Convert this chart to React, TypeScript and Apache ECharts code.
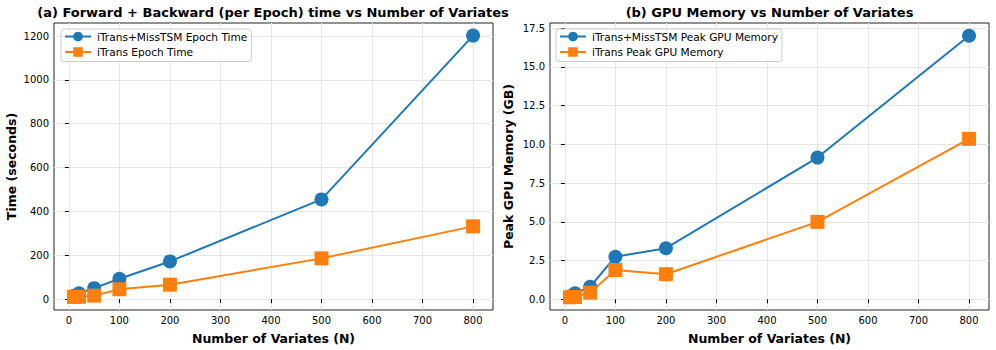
import React, { useEffect, useRef } from "react";
import * as echarts from "echarts";

const variates = [10, 20, 50, 100, 200, 500, 800];
const missTsmTime = [15, 27, 50, 93, 172, 455, 1202];
const itransTime = [10, 11, 16, 45, 66, 186, 332];
const missTsmMem = [0.2, 0.39, 0.81, 2.75, 3.3, 9.15, 17.02];
const itransMem = [0.13, 0.15, 0.43, 1.89, 1.62, 5.0, 10.36];

const xTicks = [0, 100, 200, 300, 400, 500, 600, 700, 800];
const timeTicks = [0, 200, 400, 600, 800, 1000, 1200];
const memTicks = [0, 2.5, 5, 7.5, 10, 12.5, 15, 17.5];

const titles = [
  "(a) Forward + Backward (per Epoch) time vs Number of Variates",
  "(b) GPU Memory vs Number of Variates",
];
const seriesNames = [
  "iTrans+MissTSM Epoch Time",
  "iTrans Epoch Time",
  "iTrans+MissTSM Peak GPU Memory",
  "iTrans Peak GPU Memory",
];

const FONT = "DejaVu Sans";
const BLUE = "#1f77b4";
const ORANGE = "#ff7f0e";

const pairs = (xs: number[], ys: number[]) => xs.map((x, i) => [x, ys[i]]);

export default function App() {
  const ref = useRef<HTMLDivElement>(null);
  useEffect(() => {
    if (!ref.current) return;
    const chart = echarts.init(ref.current, null, { renderer: "svg" });
    const grids = [
      { left: 54, top: 23, width: 439, height: 287 },
      { left: 550, top: 23, width: 439, height: 287 },
    ];
    const axisCommon = {
      type: "value",
      axisLine: { show: false },
      axisTick: { show: true, length: 4, lineStyle: { color: "#000", width: 1 } },
      axisLabel: { color: "#000", fontFamily: FONT, fontSize: 10, margin: 5 },
      splitLine: { show: true, lineStyle: { color: "#e6e6e6", width: 1 } },
      nameLocation: "middle",
      nameTextStyle: { color: "#000", fontFamily: FONT, fontSize: 12.5, fontWeight: "bold" },
    };
    const xAxis = [0, 1].map((i) => ({
      ...axisCommon,
      gridIndex: i,
      min: -29.5,
      max: 839.5,
      name: "Number of Variates (N)",
      nameGap: 22,
      axisTick: { ...axisCommon.axisTick, customValues: xTicks },
      axisLabel: { ...axisCommon.axisLabel, customValues: xTicks, formatter: (v: number) => String(v) },
    }));
    const yAxis = [
      {
        ...axisCommon,
        gridIndex: 0,
        min: -49.5,
        max: 1259.5,
        name: "Time (seconds)",
        nameGap: 36,
        axisTick: { ...axisCommon.axisTick, customValues: timeTicks },
        axisLabel: { ...axisCommon.axisLabel, customValues: timeTicks, formatter: (v: number) => String(v) },
      },
      {
        ...axisCommon,
        gridIndex: 1,
        min: -0.69,
        max: 17.84,
        name: "Peak GPU Memory (GB)",
        nameGap: 35,
        axisTick: { ...axisCommon.axisTick, customValues: memTicks },
        axisLabel: {
          ...axisCommon.axisLabel,
          customValues: memTicks,
          formatter: (v: number) => v.toFixed(1),
        },
      },
    ];
    const mk = (name: string, data: number[][], idx: number, color: string, symbol: string) => ({
      name,
      type: "line",
      xAxisIndex: idx,
      yAxisIndex: idx,
      data,
      symbol,
      symbolSize: 14,
      showSymbol: true,
      lineStyle: { color, width: 2 },
      itemStyle: { color, borderWidth: 0 },
      emphasis: { disabled: true },
    });
    const legendCommon = {
      orient: "vertical",
      top: 29,
      padding: [2, 4, 4, 3],
      itemGap: 4.5,
      itemWidth: 26,
      itemHeight: 12,
      backgroundColor: "rgba(255,255,255,0.8)",
      borderColor: "#cccccc",
      borderWidth: 1,
      borderRadius: 3,
      textStyle: { color: "#000", fontFamily: FONT, fontSize: 10.6, padding: [0, 0, 0, 1] },
    };
    chart.setOption({
      animation: false,
      backgroundColor: "#fff",
      textStyle: { fontFamily: FONT },
      grid: grids.map((g) => ({
        ...g,
        show: true,
        borderColor: "#222",
        borderWidth: 1,
        backgroundColor: "transparent",
        containLabel: false,
      })),
      xAxis,
      yAxis,
      legend: [
        { ...legendCommon, left: 61, data: [seriesNames[0], seriesNames[1]] },
        { ...legendCommon, left: 556, data: [seriesNames[2], seriesNames[3]] },
      ],
      graphic: [
        {
          type: "text",
          x: 273,
          y: 12,
          style: {
            text: titles[0],
            fill: "#000",
            font: `bold 13px '${FONT}'`,
            textAlign: "center",
            textVerticalAlign: "middle",
          },
        },
        {
          type: "text",
          x: 769.5,
          y: 12,
          style: {
            text: titles[1],
            fill: "#000",
            font: `bold 13px '${FONT}'`,
            textAlign: "center",
            textVerticalAlign: "middle",
          },
        },
      ],
      series: [
        mk(seriesNames[0], pairs(variates, missTsmTime), 0, BLUE, "circle"),
        mk(seriesNames[1], pairs(variates, itransTime), 0, ORANGE, "rect"),
        mk(seriesNames[2], pairs(variates, missTsmMem), 1, BLUE, "circle"),
        mk(seriesNames[3], pairs(variates, itransMem), 1, ORANGE, "rect"),
      ],
    });
    return () => chart.dispose();
  }, []);
  return <div ref={ref} style={{ width: 996, height: 350, position: "absolute", left: 0, top: 0 }} />;
}
